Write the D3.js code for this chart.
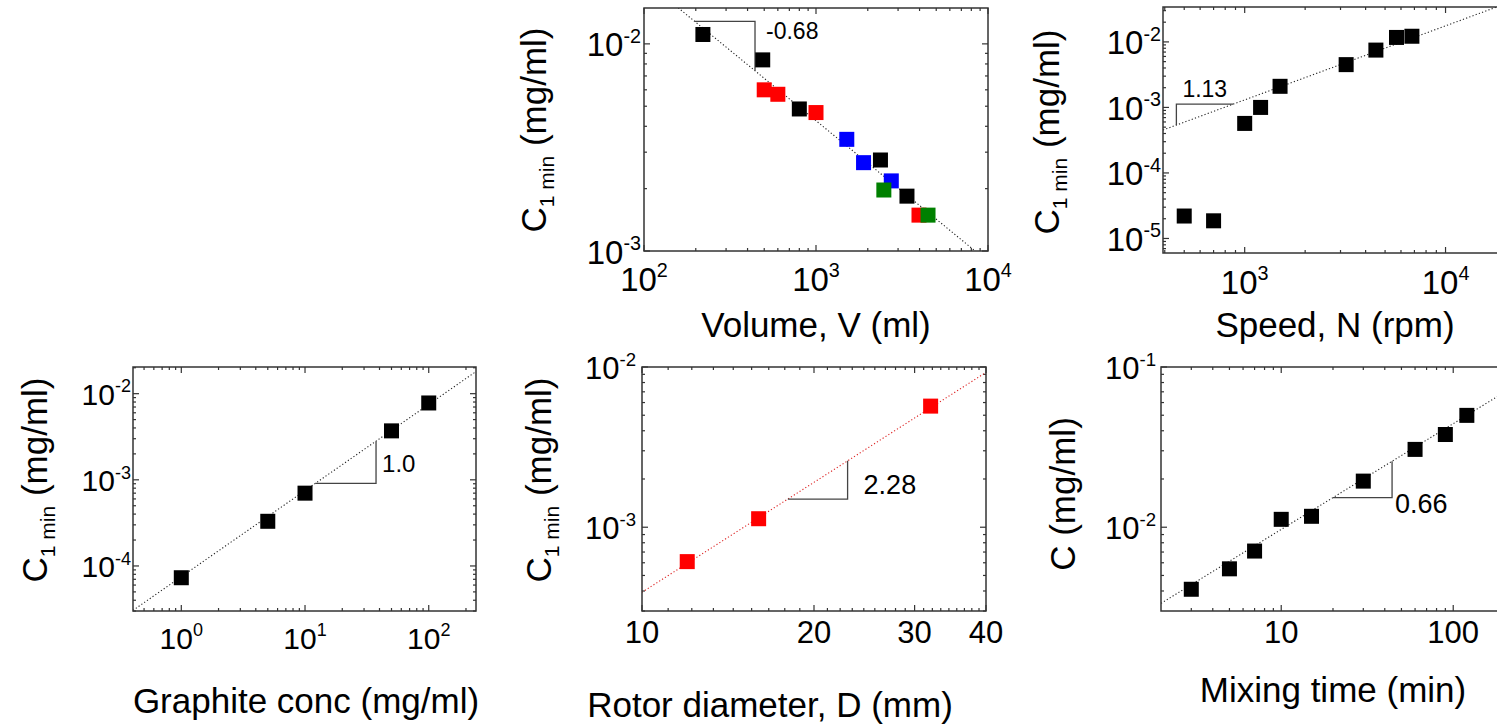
<!DOCTYPE html>
<html>
<head>
<meta charset="utf-8">
<script src="https://cdn.jsdelivr.net/npm/d3@7"></script>
<style>
body { margin: 0; background: #fff; }
text { font-family: Arial, "Liberation Sans", sans-serif; fill: #000; }
</style>
</head>
<body>
<script>
// Volume panel (four series by colour)
var volBlackV = [220, 490, 800, 2370, 3380];
var volBlackC = [0.0111, 0.00837, 0.00485, 0.00275, 0.00184];
var volRedV = [500, 600, 1000, 3970];
var volRedC = [0.0060, 0.00571, 0.00466, 0.00149];
var volBlueV = [1510, 1890, 2740];
var volBlueC = [0.00346, 0.00267, 0.00218];
var volGreenV = [2480, 4480];
var volGreenC = [0.00197, 0.00149];

// Speed panel
var speedN = [500, 700, 1000, 1200, 1500, 3200, 4500, 5700, 6800];
var speedC = [2.2e-5, 1.86e-5, 5.7e-4, 1.0e-3, 2.1e-3, 4.5e-3, 7.5e-3, 0.0117, 0.0122];

// Graphite concentration panel
var graphiteConc = [1, 5, 10, 50, 100];
var graphiteC = [7.3e-5, 3.3e-4, 7.0e-4, 3.7e-3, 7.8e-3];

// Rotor diameter panel
var rotorD = [12, 16, 32];
var rotorC = [6.1e-4, 1.13e-3, 5.7e-3];

// Mixing time panel
var mixT = [3, 5, 7, 10, 15, 30, 60, 90, 120];
var mixC = [4.1e-3, 5.5e-3, 7.1e-3, 0.0112, 0.0117, 0.0194, 0.0306, 0.0379, 0.0499];

// power law fits y = a * x^b
var fitA = [0.4667, 5.31e-7, 7.5e-5, 2.06e-6, 2.12e-3];
var fitB = [-0.68, 1.13, 1.0, 2.28, 0.66];
var slopeLabels = ["-0.68", "1.13", "1.0", "2.28", "0.66"];

var svg = d3.select("body").append("svg")
  .attr("width", 1497)
  .attr("height", 725);

function zip(xs, ys) {
  return xs.map(function(x, i) { return {x: x, y: ys[i]}; });
}

function logMinor(dom) {
  var out = [];
  var lo = Math.floor(Math.log10(dom[0])), hi = Math.ceil(Math.log10(dom[1]));
  for (var d = lo; d <= hi; d++) {
    for (var m = 2; m <= 9; m++) {
      var v = m * Math.pow(10, d);
      if (v > dom[0] && v < dom[1]) out.push(v);
    }
  }
  return out;
}

function logMajor(dom) {
  var out = [];
  var lo = Math.ceil(Math.log10(dom[0]) - 1e-9), hi = Math.floor(Math.log10(dom[1]) + 1e-9);
  for (var d = lo; d <= hi; d++) out.push(Math.pow(10, d));
  return out;
}

// put "10" + superscript exponent into a text element
function powLabel(t, v, supSize, supDy) {
  var e = Math.round(Math.log10(v));
  t.append("tspan").text("10");
  t.append("tspan").attr("font-size", supSize).attr("dy", supDy).text(e);
}

function drawPanel(p) {
  var g = svg.append("g");
  var x = d3.scaleLog().domain(p.xDomain).range([p.left, p.right]);
  var y = d3.scaleLog().domain(p.yDomain).range([p.bottom, p.top]);

  var clipId = "clip" + p.id;
  g.append("clipPath").attr("id", clipId)
    .append("rect")
    .attr("x", p.left).attr("y", p.top)
    .attr("width", p.right - p.left).attr("height", p.bottom - p.top);

  // ticks, inward on all four sides
  var xMaj = p.xMajor || logMajor(p.xDomain);
  var xMin = p.xMinor || logMinor(p.xDomain);
  var yMaj = logMajor(p.yDomain);
  var yMin = logMinor(p.yDomain);
  var tk = g.append("g").attr("stroke", "#333").attr("stroke-width", 1.2);
  function xt(list, len) {
    list.forEach(function(v) {
      var px = x(v);
      tk.append("line").attr("x1", px).attr("x2", px).attr("y1", p.bottom).attr("y2", p.bottom - len);
      tk.append("line").attr("x1", px).attr("x2", px).attr("y1", p.top).attr("y2", p.top + len);
    });
  }
  function yt(list, len) {
    list.forEach(function(v) {
      var py = y(v);
      tk.append("line").attr("y1", py).attr("y2", py).attr("x1", p.left).attr("x2", p.left + len);
      tk.append("line").attr("y1", py).attr("y2", py).attr("x1", p.right).attr("x2", p.right - len);
    });
  }
  xt(xMaj, 6); xt(xMin, 3);
  yt(yMaj, 6); yt(yMin, 3);

  // fit line
  var a = fitA[p.id], b = fitB[p.id];
  var f = function(v) { return a * Math.pow(v, b); };
  g.append("line")
    .attr("clip-path", "url(#" + clipId + ")")
    .attr("x1", x(p.xDomain[0])).attr("y1", y(f(p.xDomain[0])))
    .attr("x2", x(p.xDomain[1])).attr("y2", y(f(p.xDomain[1])))
    .attr("stroke", p.fitColor)
    .attr("stroke-width", 1.1)
    .attr("stroke-dasharray", "1.2,2.2");

  // slope triangle
  var x1 = p.tri[0], x2 = p.tri[1], cx, cy, d;
  if (p.triCornerLeft) {
    cx = x(x1); cy = y(f(x2));
    d = "M" + x(x2) + "," + cy + "H" + cx + "V" + y(f(x1));
  } else {
    cx = x(x2); cy = y(f(x1));
    d = "M" + x(x1) + "," + cy + "H" + cx + "V" + y(f(x2));
  }
  g.append("path").attr("d", d)
    .attr("fill", "none").attr("stroke", "#444").attr("stroke-width", 1.3);
  g.append("text")
    .attr("x", cx + p.labelOff[0]).attr("y", cy + p.labelOff[1])
    .attr("font-size", p.labelSize)
    .text(slopeLabels[p.id]);

  // markers
  p.series.forEach(function(s) {
    g.selectAll(null)
      .data(s.pts)
      .enter()
      .append("rect")
      .attr("x", function(d) { return x(d.x) - 7.5; })
      .attr("y", function(d) { return y(d.y) - 7.5; })
      .attr("width", 15)
      .attr("height", 15)
      .attr("fill", s.color);
  });

  // frame
  g.append("rect")
    .attr("x", p.left).attr("y", p.top)
    .attr("width", p.right - p.left).attr("height", p.bottom - p.top)
    .attr("fill", "none").attr("stroke", "#333").attr("stroke-width", 1.5);

  // y tick labels
  yMaj.forEach(function(v) {
    var t = g.append("text")
      .attr("x", p.left - p.yLabGap)
      .attr("y", y(v) + p.tickSize * 0.38)
      .attr("text-anchor", "end")
      .attr("font-size", p.tickSize);
    powLabel(t, v, p.tickSize * 0.6, -p.tickSize * 0.42);
  });

  // x tick labels
  xMaj.forEach(function(v) {
    var t = g.append("text")
      .attr("x", x(v))
      .attr("y", p.bottom + p.xLabGap)
      .attr("text-anchor", "middle")
      .attr("font-size", p.tickSize);
    if (p.plainX) t.text(v);
    else powLabel(t, v, p.tickSize * 0.6, -p.tickSize * 0.42);
  });

  // axis titles
  g.append("text")
    .attr("x", p.xTitle[1]).attr("y", p.xTitle[2])
    .attr("text-anchor", "middle")
    .attr("font-size", 35)
    .text(p.xTitle[0]);

  var yt2 = g.append("text")
    .attr("transform", "translate(" + p.yTitle[0] + "," + p.yTitle[1] + ") rotate(-90)")
    .attr("text-anchor", "middle")
    .attr("font-size", 35);
  if (p.yTitleSub) {
    yt2.append("tspan").text("C");
    yt2.append("tspan").attr("font-size", 21).attr("dy", 8).text("1 min");
    yt2.append("tspan").attr("dy", -8).text(" (mg/ml)");
  } else {
    yt2.text("C (mg/ml)");
  }
}

var rotorMinor = [];
[[10, 20], [20, 30], [30, 40]].forEach(function(r) {
  for (var k = 1; k <= 8; k++) rotorMinor.push(r[0] + k * (r[1] - r[0]) / 9);
});

var panels = [
  {
    id: 0, left: 644, right: 988, top: 8, bottom: 251,
    xDomain: [100, 10000], yDomain: [1e-3, 0.0149],
    series: [
      {pts: zip(volBlackV, volBlackC), color: "#000"},
      {pts: zip(volRedV, volRedC), color: "#ff0000"},
      {pts: zip(volBlueV, volBlueC), color: "#0000ff"},
      {pts: zip(volGreenV, volGreenC), color: "#008000"}
    ],
    fitColor: "#222", tri: [197, 442], labelOff: [11, 18], labelSize: 23,
    tickSize: 33, yLabGap: 3, xLabGap: 40,
    xTitle: ["Volume, V (ml)", 816, 337], yTitle: [546, 130], yTitleSub: true
  },
  {
    id: 1, left: 1163, right: 1506, top: 7, bottom: 253,
    xDomain: [392, 20000], yDomain: [6e-6, 0.0341],
    series: [{pts: zip(speedN, speedC), color: "#000"}],
    fitColor: "#222", tri: [457, 875], triCornerLeft: true, labelOff: [6, -7], labelSize: 23,
    tickSize: 33, yLabGap: 2, xLabGap: 41,
    xTitle: ["Speed, N (rpm)", 1335, 337], yTitle: [1059, 132], yTitleSub: true
  },
  {
    id: 2, left: 133, right: 476, top: 367, bottom: 611,
    xDomain: [0.407, 241], yDomain: [3.0e-5, 0.0204],
    series: [{pts: zip(graphiteConc, graphiteC), color: "#000"}],
    fitColor: "#222", tri: [12.1, 37.5], labelOff: [6, -11], labelSize: 24,
    tickSize: 30, yLabGap: 2, xLabGap: 38,
    xTitle: ["Graphite conc (mg/ml)", 306, 713], yTitle: [47, 480], yTitleSub: true
  },
  {
    id: 3, left: 642, right: 986, top: 367, bottom: 611,
    xDomain: [10, 40], yDomain: [3e-4, 1e-2],
    xMajor: [10, 20, 30, 40], xMinor: rotorMinor, plainX: true,
    series: [{pts: zip(rotorD, rotorC), color: "#ff0000"}],
    fitColor: "#d22", tri: [18, 22.9], labelOff: [16, -5], labelSize: 27,
    tickSize: 31, yLabGap: 6, xLabGap: 32,
    xTitle: ["Rotor diameter, D (mm)", 770, 717], yTitle: [551, 480], yTitleSub: true
  },
  {
    id: 4, left: 1161, right: 1505, top: 367, bottom: 611,
    xDomain: [2, 200], yDomain: [3e-3, 0.1],
    xMajor: [10, 100], plainX: true,
    series: [{pts: zip(mixT, mixC), color: "#000"}],
    fitColor: "#222", tri: [20, 44.1], labelOff: [3, 15], labelSize: 27,
    tickSize: 31, yLabGap: 5, xLabGap: 32,
    xTitle: ["Mixing time (min)", 1333, 702], yTitle: [1075, 494], yTitleSub: false
  }
];

panels.forEach(drawPanel);
</script>
</body>
</html>
